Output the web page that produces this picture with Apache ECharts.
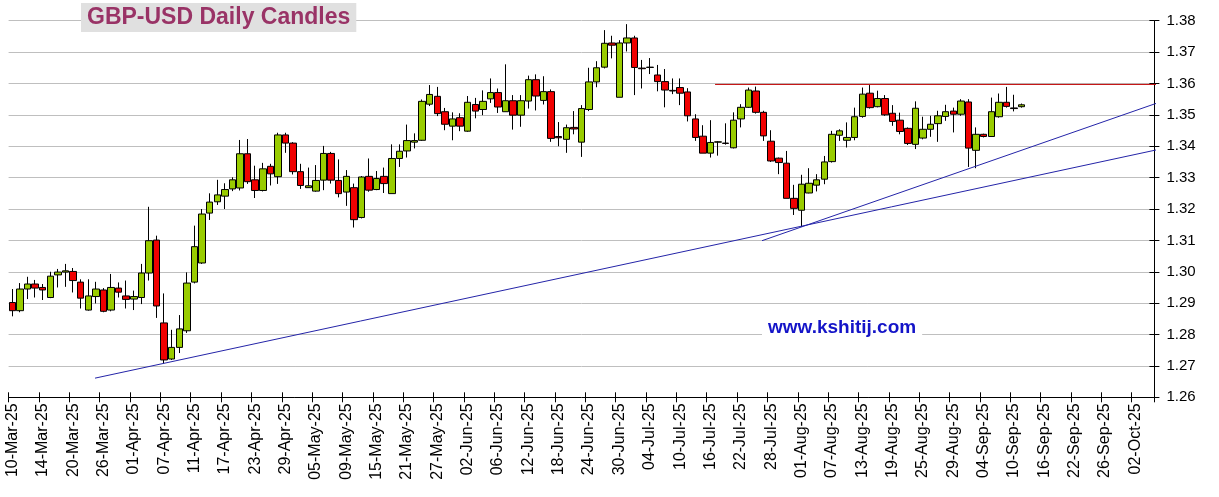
<!DOCTYPE html>
<html>
<head>
<meta charset="utf-8">
<script src="https://cdn.jsdelivr.net/npm/echarts@6/dist/echarts.min.js"></script>
<style>html,body{margin:0;padding:0;background:#fff;}#chart{width:1219px;height:497px;}</style>
</head>
<body>
<div id="chart"></div>
<script>
// ---- data ----
const startDate = '2025-03-10';   // first trading day on the axis
const dayCount = 151;             // weekdays shown on the axis (10-Mar-25 .. 06-Oct-25)

const opens  = [1.2902,1.2876,1.2945,1.2961,1.2950,1.2918,1.2990,1.2999,1.3001,1.2967,
                1.2878,1.2921,1.2942,1.2878,1.2948,1.2923,1.2913,1.2918,1.2996,1.3101,
                1.2837,1.2722,1.2759,1.2812,1.2967,1.3028,1.3187,1.3223,1.3241,1.3264,
                1.3267,1.3376,1.3293,1.3259,1.3336,1.3303,1.3436,1.3410,1.3319,1.3268,
                1.3257,1.3292,1.3377,1.3291,1.3254,1.3268,1.3173,1.3304,1.3262,1.3304,
                1.3249,1.3361,1.3385,1.3413,1.3419,1.3534,1.3559,1.3510,1.3464,1.3491,
                1.3448,1.3533,1.3517,1.3551,1.3571,1.3510,1.3545,1.3499,1.3544,1.3612,
                1.3546,1.3574,1.3431,1.3422,1.3460,1.3413,1.3517,1.3605,1.3652,1.3729,
                1.3556,1.3729,1.3745,1.3649,1.3651,1.3627,1.3606,1.3578,1.3587,1.3573,
                1.3487,1.3432,1.3378,1.3413,1.3410,1.3395,1.3487,1.3524,1.3576,1.3508,
                1.3416,1.3362,1.3346,1.3234,1.3196,1.3251,1.3276,1.3295,1.3351,1.3435,
                1.3419,1.3428,1.3495,1.3569,1.3526,1.3552,1.3505,1.3483,1.3457,1.3406,
                1.3426,1.3454,1.3472,1.3495,1.3512,1.3502,1.3541,1.3387,1.3438,1.3431,
                1.3494,1.3540,1.3522,1.3526];
const closes = [1.2876,1.2945,1.2961,1.2948,1.2942,1.2986,1.2999,1.3003,1.2972,1.2916,
                1.2923,1.2945,1.2874,1.2950,1.2935,1.2912,1.2921,1.2996,1.3099,1.2891,
                1.2719,1.2759,1.2818,1.2964,1.3080,1.3184,1.3222,1.3245,1.3262,1.3293,
                1.3376,1.3287,1.3259,1.3328,1.3312,1.3436,1.3410,1.3319,1.3275,1.3274,
                1.3291,1.3377,1.3292,1.3249,1.3304,1.3166,1.3302,1.3260,1.3297,1.3281,
                1.3361,1.3384,1.3418,1.3418,1.3543,1.3565,1.3504,1.3470,1.3487,1.3464,
                1.3540,1.3512,1.3543,1.3571,1.3525,1.3545,1.3499,1.3545,1.3612,1.3560,
                1.3574,1.3425,1.3427,1.3459,1.3455,1.3520,1.3605,1.3650,1.3728,1.3722,
                1.3729,1.3745,1.3651,1.3647,1.3652,1.3606,1.3579,1.3576,1.3569,1.3497,
                1.3428,1.3378,1.3412,1.3414,1.3409,1.3483,1.3524,1.3579,1.3508,1.3433,
                1.3353,1.3348,1.3234,1.3202,1.3279,1.3282,1.3293,1.3350,1.3438,1.3449,
                1.3428,1.3494,1.3566,1.3523,1.3552,1.3500,1.3479,1.3447,1.3409,1.3521,
                1.3454,1.3470,1.3497,1.3510,1.3502,1.3544,1.3394,1.3438,1.3431,1.3510,
                1.3540,1.3527,1.3520,1.3532];
const lows   = [1.2858,1.2871,1.2913,1.2918,1.2910,1.2916,1.2950,1.2952,1.2934,1.2883,
                1.2876,1.2899,1.2871,1.2874,1.2918,1.2883,1.2878,1.2897,1.2972,1.2853,
                1.2708,1.2719,1.2741,1.2805,1.2963,1.3025,1.3165,1.3213,1.3200,1.3257,
                1.3259,1.3280,1.3235,1.3256,1.3275,1.3280,1.3379,1.3310,1.3264,1.3267,
                1.3255,1.3260,1.3281,1.3237,1.3210,1.3141,1.3170,1.3255,1.3260,1.3251,
                1.3249,1.3334,1.3364,1.3393,1.3417,1.3528,1.3496,1.3451,1.3419,1.3448,
                1.3446,1.3489,1.3499,1.3538,1.3506,1.3510,1.3453,1.3462,1.3520,1.3514,
                1.3533,1.3414,1.3400,1.3379,1.3438,1.3366,1.3512,1.3588,1.3648,1.3680,
                1.3556,1.3702,1.3563,1.3584,1.3630,1.3575,1.3524,1.3566,1.3531,1.3479,
                1.3417,1.3378,1.3364,1.3370,1.3405,1.3393,1.3460,1.3522,1.3504,1.3417,
                1.3350,1.3311,1.3234,1.3181,1.3143,1.3250,1.3256,1.3279,1.3348,1.3417,
                1.3396,1.3419,1.3491,1.3520,1.3524,1.3497,1.3465,1.3438,1.3404,1.3391,
                1.3422,1.3430,1.3414,1.3481,1.3444,1.3497,1.3334,1.3330,1.3428,1.3430,
                1.3491,1.3523,1.3511,1.3523];
const highs  = [1.2945,1.2964,1.2984,1.2974,1.2961,1.3000,1.3009,1.3025,1.3012,1.2976,
                1.2976,1.2968,1.2948,1.2993,1.2966,1.2972,1.2940,1.3025,1.3207,1.3115,
                1.2931,1.2815,1.2862,1.2998,1.3147,1.3200,1.3250,1.3293,1.3282,1.3301,
                1.3420,1.3423,1.3338,1.3347,1.3344,1.3443,1.3443,1.3413,1.3344,1.3332,
                1.3340,1.3401,1.3382,1.3358,1.3324,1.3281,1.3305,1.3361,1.3321,1.3332,
                1.3406,1.3406,1.3469,1.3441,1.3549,1.3595,1.3589,1.3522,1.3508,1.3505,
                1.3560,1.3554,1.3578,1.3616,1.3584,1.3661,1.3563,1.3563,1.3625,1.3629,
                1.3623,1.3581,1.3477,1.3469,1.3512,1.3531,1.3650,1.3671,1.3770,1.3752,
                1.3738,1.3789,1.3752,1.3675,1.3681,1.3659,1.3646,1.3616,1.3616,1.3585,
                1.3502,1.3467,1.3483,1.3416,1.3473,1.3508,1.3534,1.3587,1.3590,1.3513,
                1.3451,1.3364,1.3385,1.3277,1.3309,1.3330,1.3311,1.3369,1.3449,1.3454,
                1.3476,1.3523,1.3587,1.3595,1.3577,1.3563,1.3531,1.3507,1.3460,1.3543,
                1.3494,1.3497,1.3513,1.3532,1.3523,1.3550,1.3550,1.3460,1.3440,1.3555,
                1.3568,1.3589,1.3564,1.3536];

// trend / resistance lines: [category position, price]
const supportLong  = [[10.89, 1.2661], [151.67, 1.3393]];
const supportShort = [[98.79, 1.3099], [152.33, 1.3550]];
const resistance   = [[92.6, 1.3597], [151.99, 1.3597]];

const yTicks = {min: 1.26, max: 1.38, step: 0.01};
const titleText = 'GBP-USD Daily Candles';
const siteText = 'www.kshitij.com';

// ---- build ----
const MON = ['Jan','Feb','Mar','Apr','May','Jun','Jul','Aug','Sep','Oct','Nov','Dec'];
const dates = [];
{
  const d = new Date(startDate + 'T00:00:00Z');
  while (dates.length < dayCount) {
    const wd = d.getUTCDay();
    if (wd !== 0 && wd !== 6) {
      const dd = String(d.getUTCDate()).padStart(2, '0');
      dates.push(dd + '-' + MON[d.getUTCMonth()] + '-' + String(d.getUTCFullYear()).slice(2));
    }
    d.setUTCDate(d.getUTCDate() + 1);
  }
}
const ohlc = opens.map((o, i) => [o, closes[i], lows[i], highs[i]]);

const FONT = "'Liberation Sans', Arial, sans-serif";
const gridRect = {left: 8.6, right: 64.6, top: 20.7, bottom: 99.7, containLabel: false};
const chart = echarts.init(document.getElementById('chart'), null, {renderer: 'canvas'});
chart.setOption({
  animation: false,
  backgroundColor: '#ffffff',
  textStyle: {fontFamily: FONT},
  grid: [Object.assign({}, gridRect), Object.assign({}, gridRect), Object.assign({}, gridRect)],
  xAxis: [
    {
      gridIndex: 0, type: 'category', data: dates, boundaryGap: true, position: 'bottom',
      axisLine: {show: true, onZero: false, lineStyle: {color: '#000', width: 1}},
      axisTick: {show: true, interval: 3, length: 5, alignWithLabel: false, lineStyle: {color: '#000'}},
      axisLabel: {interval: 3, rotate: 90, color: '#000', fontSize: 16, fontFamily: FONT, margin: 6},
      splitLine: {show: false}
    },
    {
      gridIndex: 1, type: 'category', data: dates, boundaryGap: true, position: 'bottom',
      axisLine: {show: false, onZero: false},
      axisTick: {show: true, inside: true, interval: 3, length: 5, alignWithLabel: false, lineStyle: {color: '#000'}},
      axisLabel: {show: false}, splitLine: {show: false}
    },
    {gridIndex: 2, type: 'value', min: -0.5, max: dayCount - 0.5, show: false,
     axisLine: {show: false, onZero: false}, splitLine: {show: false}}
  ],
  yAxis: [
    {
      gridIndex: 0, type: 'value', position: 'right', min: yTicks.min, max: yTicks.max, interval: yTicks.step,
      axisLine: {show: true, onZero: false, lineStyle: {color: '#000', width: 1}},
      axisTick: {show: true, length: 5, lineStyle: {color: '#000'}},
      axisLabel: {color: '#000', fontSize: 15, fontFamily: FONT, margin: 12, formatter: v => v.toFixed(2)},
      splitLine: {show: true, lineStyle: {color: '#bfbfbf', width: 1}}
    },
    {
      gridIndex: 1, type: 'value', position: 'right', min: yTicks.min, max: yTicks.max, interval: yTicks.step,
      axisLine: {show: false, onZero: false},
      axisTick: {show: true, inside: true, length: 5, lineStyle: {color: '#000'}},
      axisLabel: {show: false}, splitLine: {show: false}
    },
    {
      gridIndex: 2, type: 'value', min: yTicks.min, max: yTicks.max, show: false,
      axisLine: {show: false, onZero: false}, splitLine: {show: false}
    }
  ],
  series: [
    {
      type: 'candlestick', xAxisIndex: 0, yAxisIndex: 0, data: ohlc,
      barWidth: 7, clip: true,
      itemStyle: {color: '#99CC00', color0: '#F00000', borderColor: '#000', borderColor0: '#000', borderWidth: 1}
    },
    {
      type: 'line', xAxisIndex: 2, yAxisIndex: 2, data: supportLong, clip: false,
      symbol: 'none', lineStyle: {color: '#2424a8', width: 1}, z: 5
    },
    {
      type: 'line', xAxisIndex: 2, yAxisIndex: 2, data: supportShort, clip: false,
      symbol: 'none', lineStyle: {color: '#2424a8', width: 1}, z: 5
    },
    {
      type: 'line', xAxisIndex: 2, yAxisIndex: 2, data: resistance, clip: false,
      symbol: 'none', lineStyle: {color: '#c00000', width: 1}, z: 5
    }
  ],
  graphic: [
    {
      type: 'text', left: 81, top: 3, z: 100,
      style: {text: titleText, font: 'bold 23px ' + FONT, fill: '#993366',
              backgroundColor: '#e0e0e0', padding: [3, 6, 3, 6]}
    },
    {
      type: 'text', left: 762, top: 317, z: 100,
      style: {text: siteText, font: 'bold 19px ' + FONT, fill: '#1414c8',
              backgroundColor: '#ffffff', padding: [1, 6, 1, 6]}
    }
  ]
});
</script>
</body>
</html>
